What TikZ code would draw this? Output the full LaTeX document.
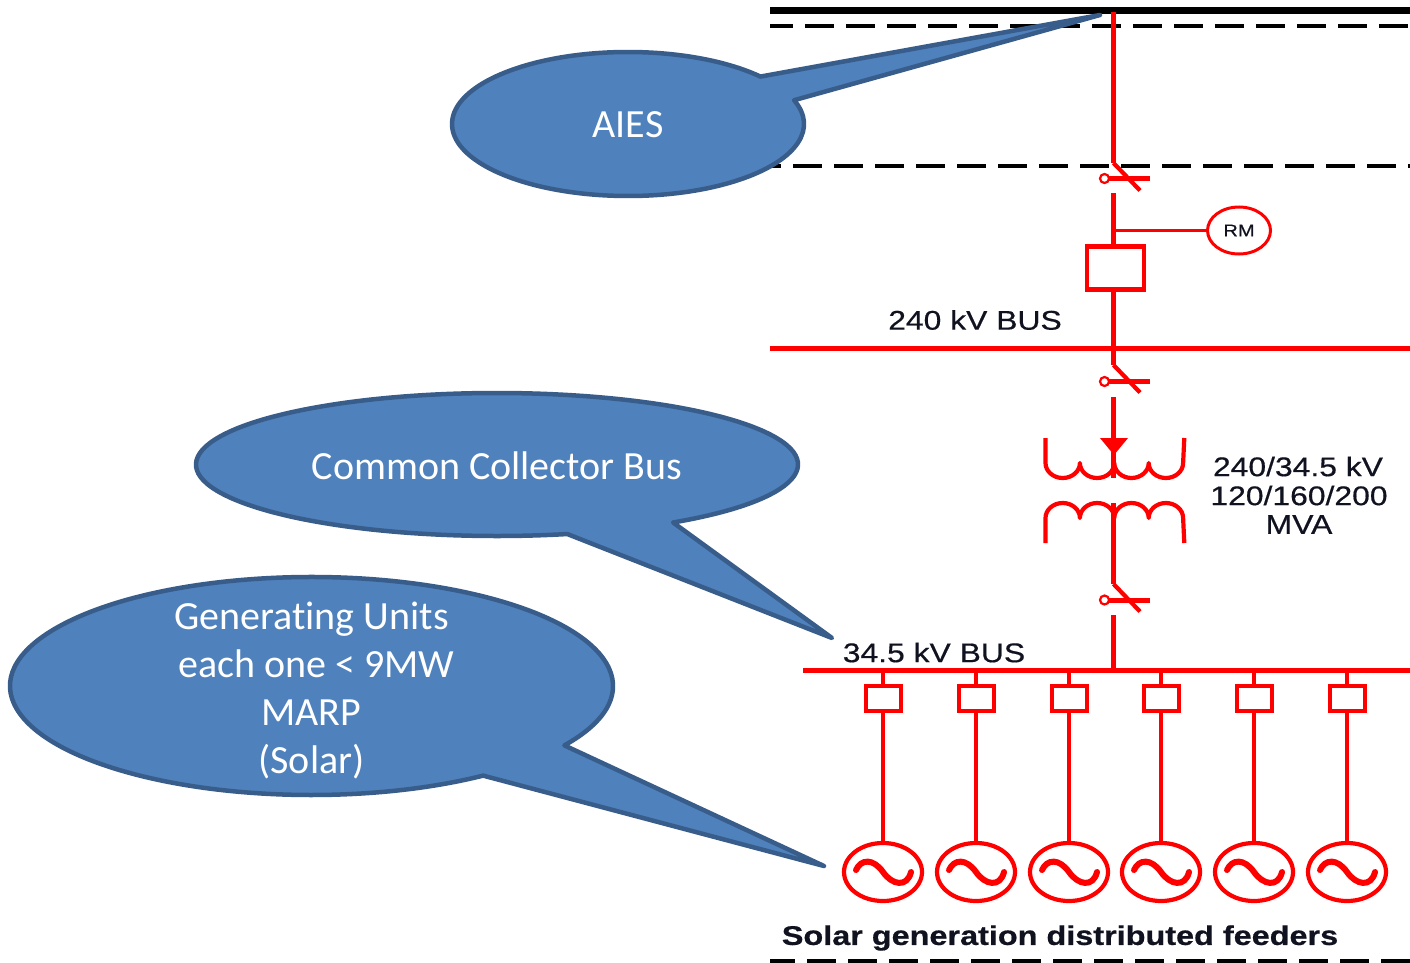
\documentclass[tikz,border=0pt]{standalone}
\usepackage{fontspec}
\usetikzlibrary{shapes.geometric,calc}
\setmainfont[Ligatures=NoCommon]{Carlito}
\newfontfamily\diagfont[FakeStretch=1.18,FakeBold=0.5]{Liberation Sans}
\newfontfamily\diagboldfont[FakeStretch=1.2,FakeBold=0.6]{Liberation Sans Bold}
\definecolor{redline}{RGB}{255,0,0}
\definecolor{calloutfill}{RGB}{79,129,189}
\definecolor{calloutedge}{RGB}{56,93,138}
\definecolor{inktext}{RGB}{16,18,32}
\tikzset{
  x=1pt,y=1pt,
  callout/.style={draw=calloutedge,fill=calloutfill,line width=4.5pt,line join=round},
  callouttext/.style={text=white,font=\fontsize{40}{48}\selectfont,align=center,inner sep=0pt},
  wire/.style={draw=redline,line width=4.2pt},
  thinwire/.style={draw=redline,line width=3pt},
  blackdash/.style={draw=black,line width=3.5pt},
  bar/.style={draw=redline,line width=5pt},
  breaker/.style={draw=redline,line width=4pt,rectangle,minimum width=35pt,minimum height=25pt,inner sep=0pt},
  bigbreaker/.style={draw=redline,line width=4.5pt,rectangle,minimum width=57pt,minimum height=43pt,inner sep=0pt},
  gen/.style={draw=redline,line width=4.2pt,ellipse,minimum width=78pt,minimum height=58pt,inner sep=0pt},
  meter/.style={draw=redline,line width=3pt,ellipse,minimum width=63pt,minimum height=47pt,inner sep=0pt,text=inktext,font=\diagfont\fontsize{17}{17}\selectfont},
  diaglabel/.style={text=inktext,font=\diagfont\fontsize{27}{29}\selectfont,align=center,inner sep=0pt},
  foot/.style={text=inktext,font=\diagboldfont\fontsize{27}{29}\selectfont,inner sep=0pt},
  pivot/.style={draw=redline,line width=2.2pt,circle,minimum size=9pt,inner sep=0pt,fill=white},
}
% disconnector: #1 node name prefix, #2 y of top of diagonal, #3 y of bar
\newcommand{\disconn}[3]{%
  \coordinate (#1top) at (1113.5,-#2);
  \coordinate (#1end) at (1140,{-#2-27.5});
  \coordinate (#1barL) at (1109,-#3);
  \coordinate (#1barR) at (1150,-#3);
  \node[pivot] (#1piv) at (1104.5,-#3) {};
  \draw[wire] (#1top) -- (#1end);
  \draw[bar] (#1piv.east) -- (#1barL) -- (#1barR);
}
\begin{document}
\begin{tikzpicture}
\useasboundingbox (0,-963) rectangle (1410,0);
\fill[white] (0,-963) rectangle (1410,0);

% black lines
\coordinate (topL) at (770,-10.5); \coordinate (topR) at (1410,-10.5);
\draw[draw=black,line width=7pt] (topL) -- (topR);
\coordinate (d1L) at (770,-26); \coordinate (d1R) at (1410,-26);
\draw[blackdash,dash pattern=on 29pt off 12pt,dash phase=6pt] (d1L) -- (d1R);
\coordinate (d2L) at (770,-166); \coordinate (d2R) at (1410,-166);
\draw[blackdash,dash pattern=on 29pt off 12pt,dash phase=18pt] (d2L) -- (d2R);
\coordinate (d3L) at (770,-961); \coordinate (d3R) at (1410,-961);
\draw[blackdash,dash pattern=on 29pt off 12pt,dash phase=4pt] (d3L) -- (d3R);

% 240 kV part
\coordinate (tap) at (1113.5,-12);
\coordinate (bus240L) at (770,-348.5); \coordinate (bus240R) at (1410,-348.5);
\coordinate (bus240T) at (1113.5,-348.5);
\coordinate (bus34L) at (803,-670.5); \coordinate (bus34R) at (1410,-670.5);
\coordinate (bus34T) at (1113.5,-670.5);
\draw[bar] (bus240L) -- (bus240R);
\draw[draw=redline,line width=4.5pt] (bus34L) -- (bus34R);

\disconn{da}{163}{178.5}
\disconn{db}{365}{381.5}
\disconn{dc}{584}{600}
\draw[wire] (tap) -- (datop);
\draw[wire] (bus240T) -- (dbtop);

\node[bigbreaker] (cb) at (1115.5,-268) {};
\node[meter] (rm) at (1239,-230.5) {RM};
\coordinate (s1) at (1113.5,-193);
\coordinate (rmT) at (1113.5,-230.5);
\draw[wire] (s1) -- (s1 |- cb.north);
\draw[thinwire] (rmT) -- (rm.west);
\draw[wire] (s1 |- cb.south) -- (bus240T);

% transformer
\coordinate (s2) at (1113.5,-397);
\coordinate (ahead) at (1113.5,-440);
\coordinate (hvjoin) at (1113.5,-478);
\coordinate (lvjoin) at (1113.5,-503);
\draw[wire] (s2) -- (ahead);
\fill[redline] (1100,-438) -- (1128,-438) -- (1114,-455) -- cycle;
\draw[wire] (ahead) -- (hvjoin);
\draw[wire,line join=round] (1045.5,-438) -- (1045.5,-463)
  arc[start angle=180,end angle=360,x radius=17.2,y radius=15]
  arc[start angle=180,end angle=360,x radius=17.2,y radius=15]
  arc[start angle=180,end angle=360,x radius=17.2,y radius=15]
  arc[start angle=180,end angle=360,x radius=17.2,y radius=15]
  -- (1184.3,-438);
\draw[wire,line join=round] (1045.5,-543) -- (1045.5,-518)
  arc[start angle=180,end angle=0,x radius=17.2,y radius=15]
  arc[start angle=180,end angle=0,x radius=17.2,y radius=15]
  arc[start angle=180,end angle=0,x radius=17.2,y radius=15]
  arc[start angle=180,end angle=0,x radius=17.2,y radius=15]
  -- (1184.3,-543);
\draw[wire] (lvjoin) -- (dctop);
\coordinate (s3) at (1113.5,-615);
\draw[wire] (s3) -- (bus34T);

% feeders
\foreach \n/\fx in {1/883,2/976,3/1069,4/1161,5/1254,6/1347}{
  \node[breaker] (b\n) at (\fx,-698.5) {};
  \node[gen] (g\n) at (\fx,-872) {};
  \draw[wire] (b\n.north) -- (b\n.north |- bus34L);
  \draw[wire] (b\n.south) -- (g\n.north);
  \draw[draw=redline,line width=6pt,line cap=round]
    ($(g\n)+(-27,2)$) .. controls ($(g\n)+(-22,13)$) and ($(g\n)+(-10,14)$) .. ($(g\n)+(0,0)$)
    .. controls ($(g\n)+(9,-13)$) and ($(g\n)+(24,-16)$) .. ($(g\n)+(28,0)$);
}

% labels
\node[diaglabel] (l240) at (975,-320) {240 kV BUS};
\node[diaglabel] (l34) at (934,-652.5) {34.5 kV BUS};
\node[diaglabel] (ltr1) at (1298,-466.5) {240/34.5 kV};
\node[diaglabel] (ltr2) at (1299,-495.5) {120/160/200};
\node[diaglabel] (ltr3) at (1299,-524.5) {MVA};
\node[foot] (lfoot) at (1060,-938) {Solar generation distributed feeders};

% callouts
\draw[callout] (628,-124) ++(41.2:176 and 72)
  arc[start angle=41.2,end angle=379.3,x radius=176,y radius=72] -- (1100,-15) -- cycle;
\node[callouttext] (aies) at (628,-125) {AIES};
\draw[callout] (497,-464.5) ++(-54.2:301 and 71.5)
  arc[start angle=-54.2,end angle=283.5,x radius=301,y radius=71.5] -- (832,-638) -- cycle;
\node[callouttext] (ccb) at (497,-465.5) {Common Collector Bus};
\draw[callout] (311.5,-686) ++(-33:301.5 and 109)
  arc[start angle=-33,end angle=304.7,x radius=301.5,y radius=109] -- (824,-866) -- cycle;
\node[callouttext] (gu) at (311.5,-691) {Generating Units\\\hspace*{10pt}each one < 9MW\\MARP\\(Solar)};
\end{tikzpicture}
\end{document}
